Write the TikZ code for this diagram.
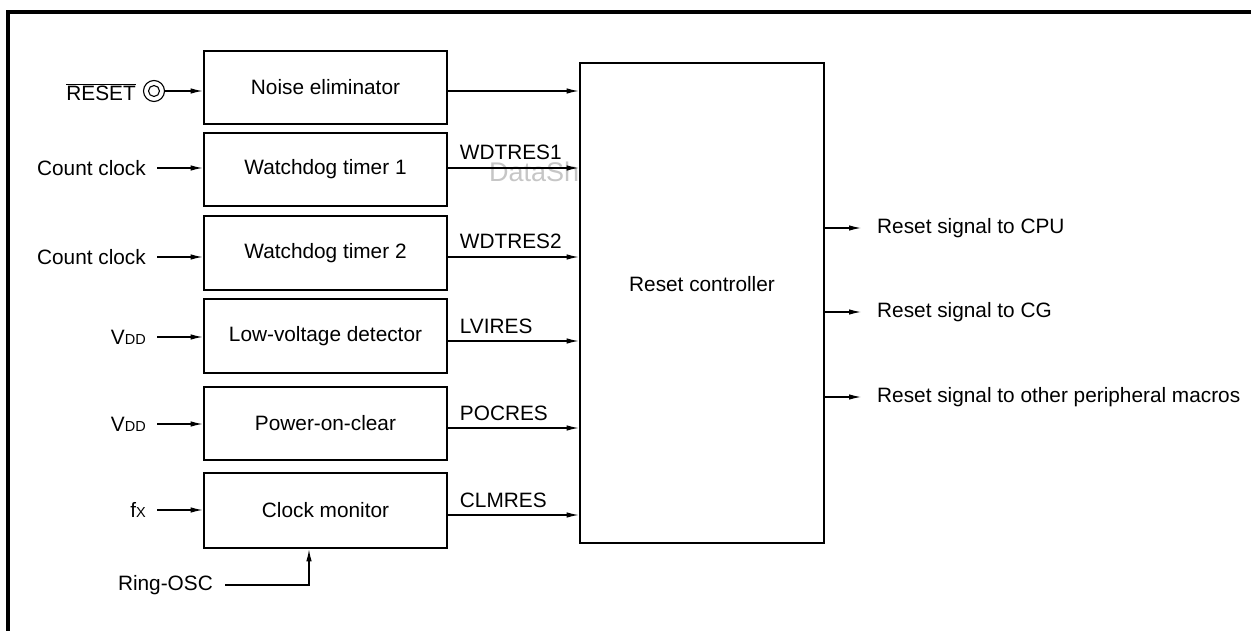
\documentclass[tikz,border=0pt]{standalone}
\usepackage{fontspec}
\setmainfont{Liberation Sans}
\usetikzlibrary{arrows.meta}
\newcommand{\lowtxt}[1]{{\fontsize{14.5}{16}\selectfont #1}}

\begin{document}
\begin{tikzpicture}[x=1pt,y=-1pt,font=\fontsize{20.8}{24}\selectfont,
  blk/.style={draw,line width=2.8pt,minimum width=243pt,inner sep=0pt},
  sig/.style={line width=1.1pt,-{Latex[length=12pt,width=5.5pt]}},
  inp/.style={anchor=east,inner sep=0pt},
  outp/.style={anchor=west,inner sep=0pt},
  tag/.style={pos=0,anchor=base west,inner sep=0pt,xshift=11pt,yshift=8pt}]
\useasboundingbox (0,0) rectangle (1251,631);
\draw[line width=3.2pt] (8,631) -- (8,12) -- (1251,12);

% blocks
\node[blk,minimum height=73pt] (ne) at (325.5,87.5) {Noise eliminator};
\node[blk,minimum height=73pt] (wdt1) at (325.5,169.5) {Watchdog timer 1};
\node[blk,minimum height=74pt] (wdt2) at (325.5,253) {Watchdog timer 2};
\node[blk,minimum height=74pt] (lvd) at (325.5,336) {Low-voltage detector};
\node[blk,minimum height=73pt] (poc) at (325.5,423.5) {Power-on-clear};
\node[blk,minimum height=75pt] (clm) at (325.5,510.5) {Clock monitor};
\node[blk,minimum width=244pt,minimum height=480pt] (rc) at (702,303) {};
\node (rcname) at ([yshift=19pt]rc.center) {Reset controller};
\node[outp,text=gray!45,font=\fontsize{27}{30}\selectfont] (wmark) at (489,172) {DataSh};

% inputs
\node[inp] (rst) at (136,92) {$\overline{\mbox{RESET}}$};
\node[circle,draw,line width=1.1pt,minimum size=21pt,inner sep=0pt] (pin) at (154,91) {};
\draw[line width=1.1pt] (pin.center) circle[radius=5.5pt];
\draw[sig] (pin.east) -- (pin.east -| ne.west);
\node[inp] (cc1) at (146,168) {Count clock};
\draw[sig] ([xshift=11pt]cc1.east) -- (cc1.east -| wdt1.west);
\node[inp] (cc2) at (146,257) {Count clock};
\draw[sig] ([xshift=11pt]cc2.east) -- (cc2.east -| wdt2.west);
\node[inp] (vdd1) at (146,337) {V\lowtxt{DD}};
\draw[sig] ([xshift=11pt]vdd1.east) -- (vdd1.east -| lvd.west);
\node[inp] (vdd2) at (146,424) {V\lowtxt{DD}};
\draw[sig] ([xshift=11pt]vdd2.east) -- (vdd2.east -| poc.west);
\node[inp] (fx) at (146,510) {f\lowtxt{X}};
\draw[sig] ([xshift=11pt]fx.east) -- (fx.east -| clm.west);
\node[inp] (osc) at (213,585) {Ring-OSC};
\draw[sig] ([xshift=12pt]osc.east) -| ([xshift=-16.5pt]clm.south);

% reset requests
\draw[sig] (ne.east |- 0,91) -- (rc.west |- 0,91);
\draw[sig] (wdt1.east |- 0,168) -- node[tag] (t1) {WDTRES1} (rc.west |- 0,168);
\draw[sig] (wdt2.east |- 0,257) -- node[tag] (t2) {WDTRES2} (rc.west |- 0,257);
\draw[sig] (lvd.east |- 0,341) -- node[tag] (t3) {LVIRES} (rc.west |- 0,341);
\draw[sig] (poc.east |- 0,428) -- node[tag] (t4) {POCRES} (rc.west |- 0,428);
\draw[sig] (clm.east |- 0,515) -- node[tag] (t5) {CLMRES} (rc.west |- 0,515);

% outputs
\node[outp] (tocpu) at (877,228) {Reset signal to CPU};
\node[outp] (tocg) at (877,312) {Reset signal to CG};
\node[outp] (toper) at (877,397) {Reset signal to other peripheral macros};
\draw[sig] (tocpu.west -| rc.east) -- ([xshift=-16pt]tocpu.west);
\draw[sig] (tocg.west -| rc.east) -- ([xshift=-16pt]tocg.west);
\draw[sig] (toper.west -| rc.east) -- ([xshift=-16pt]toper.west);
\end{tikzpicture}
\end{document}
